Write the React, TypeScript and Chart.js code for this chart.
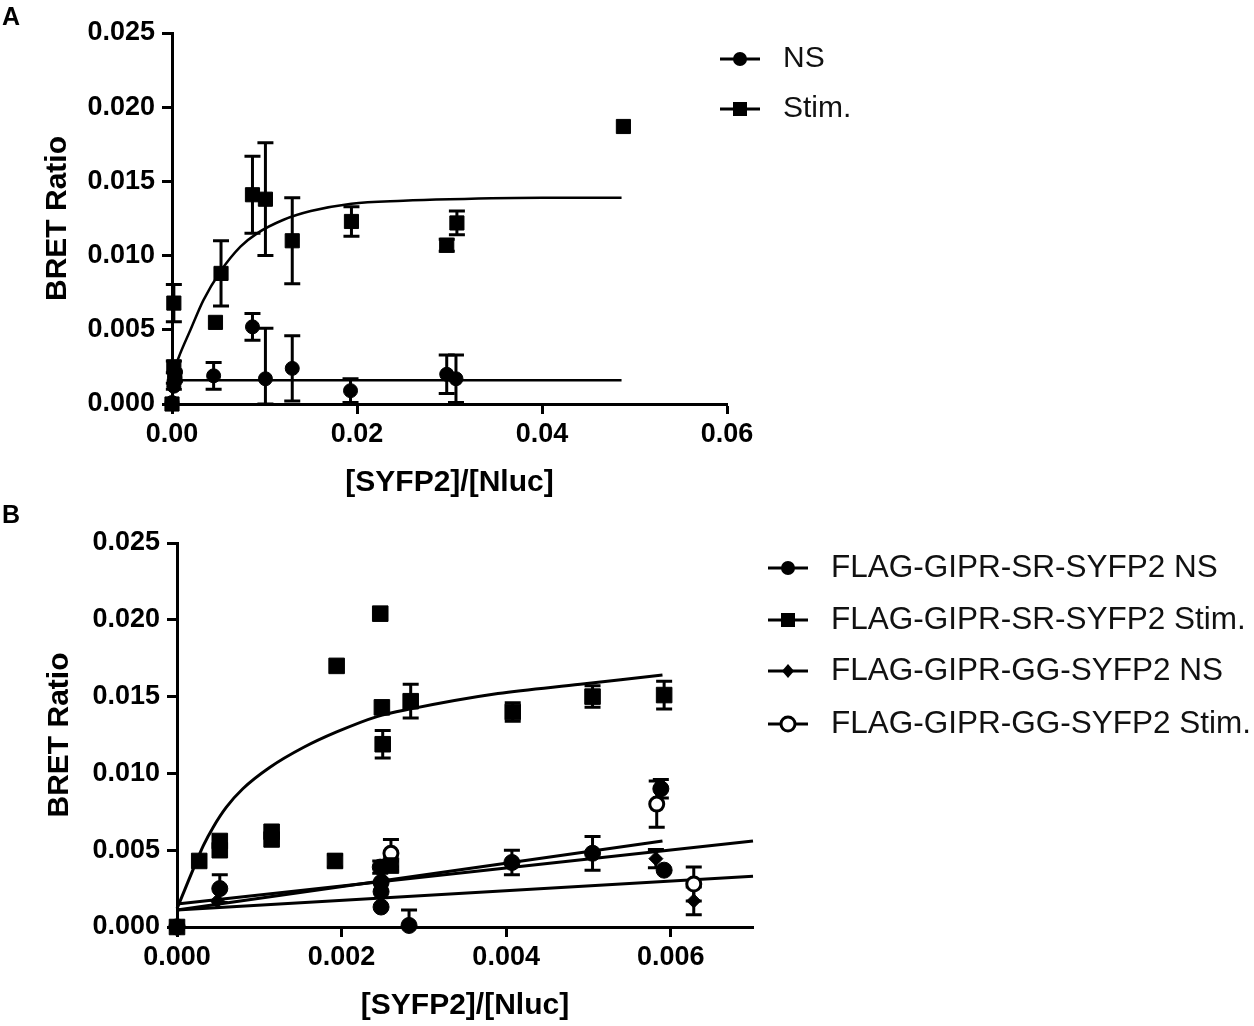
import { useEffect, useRef } from 'react';
import { Chart, registerables } from 'chart.js';

Chart.register(...registerables);

const FONT = "'Liberation Sans', Arial, Helvetica, sans-serif";

// ---- Panel A ----
const aXTicks = [0, 0.02, 0.04, 0.06];
const aYTicks = [0, 0.005, 0.01, 0.015, 0.02, 0.025];

const aNsX = [0, 0.0002, 0.0003, 0.0045, 0.0087, 0.0101, 0.013, 0.0193, 0.0297, 0.0307];
const aNsY = [0.0001, 0.0012, 0.0018, 0.0019, 0.0052, 0.0017, 0.0024, 0.0009, 0.002, 0.0017];
const aNsErr = [0, 0.0002, 0.0003, 0.0009, 0.0009, 0.0034, 0.0022, 0.0008, 0.0013, 0.0016];

const aStimX = [0, 0.0002, 0.0002, 0.0003, 0.0047, 0.0053, 0.0087, 0.0101, 0.013, 0.0194, 0.0297, 0.0308, 0.0488];
const aStimY = [0, 0.0068, 0.0025, 0.0019, 0.0055, 0.0088, 0.0141, 0.0138, 0.011, 0.0123, 0.0107, 0.0122, 0.0187];
const aStimErr = [0, 0.00125, 0.0004, 0.0003, 0, 0.0022, 0.0026, 0.0038, 0.0029, 0.001, 0.0004, 0.0008, 0];

const aStimFitX = [0, 0.0007, 0.002, 0.0034, 0.0052, 0.0074, 0.0092, 0.012, 0.015, 0.0194, 0.025, 0.03, 0.04, 0.0486];
const aStimFitY = [0.0018, 0.0031, 0.005, 0.007, 0.0089, 0.0106, 0.0115, 0.0124, 0.013, 0.0135, 0.0137, 0.0138, 0.0139, 0.0139];
const aNsFitX = [0, 0.0486];
const aNsFitY = [0.0016, 0.0016];

const aLegend = ['NS', 'Stim.'];

// ---- Panel B ----
const bXTicks = [0, 0.002, 0.004, 0.006];
const bYTicks = [0, 0.005, 0.01, 0.015, 0.02, 0.025];

const bSrNsX = [0, 0.00052, 0.00247, 0.00248, 0.00248, 0.00248, 0.00282, 0.00407, 0.00505, 0.00592, 0.00588];
const bSrNsY = [0, 0.0025, 0.0039, 0.0029, 0.0023, 0.0013, 0.0001, 0.0042, 0.0048, 0.0037, 0.009];
const bSrNsErr = [0, 0.0009, 0.0004, 0, 0, 0, 0.001, 0.0008, 0.0011, 0, 0.0006];

const bSrStimX = [0, 0.00027, 0.00052, 0.00052, 0.00115, 0.00115, 0.00194, 0.00192, 0.00247, 0.00249, 0.0025, 0.0026, 0.00284, 0.00408, 0.00505, 0.00592];
const bSrStimY = [0, 0.0043, 0.0056, 0.005, 0.0062, 0.0057, 0.017, 0.0043, 0.0204, 0.0143, 0.0119, 0.004, 0.0147, 0.014, 0.015, 0.0151];
const bSrStimErr = [0, 0, 0, 0, 0, 0, 0, 0.0004, 0, 0, 0.0009, 0.0003, 0.0011, 0.0006, 0.0007, 0.0009];

const bGgNsX = [0, 0.00049, 0.0025, 0.00582, 0.00628];
const bGgNsY = [0, 0.0017, 0.0031, 0.00445, 0.0017];
const bGgNsErr = [0, 0, 0, 0.0006, 0.0009];

const bGgStimX = [0, 0.0026, 0.00583, 0.00628];
const bGgStimY = [0, 0.0048, 0.008, 0.0028];
const bGgStimErr = [0, 0.0009, 0.0015, 0.0011];

const bSrStimFitX = [0, 0.0001, 0.0002, 0.00032, 0.00044, 0.0006, 0.0008, 0.00113, 0.00154, 0.00194, 0.00243, 0.00284, 0.0039, 0.0049, 0.0059];
const bSrStimFitY = [0.0012, 0.0025, 0.0038, 0.0053, 0.0065, 0.0078, 0.009, 0.0104, 0.0117, 0.0127, 0.0137, 0.0142, 0.0152, 0.0158, 0.0164];
const bSrNsFitX = [0, 0.0059];
const bSrNsFitY = [0.0011, 0.0056];
const bGgNsFitX = [0, 0.007];
const bGgNsFitY = [0.0011, 0.0033];
const bGgStimFitX = [0, 0.007];
const bGgStimFitY = [0.0015, 0.0056];

const bLegend = [
  'FLAG-GIPR-SR-SYFP2 NS',
  'FLAG-GIPR-SR-SYFP2 Stim.',
  'FLAG-GIPR-GG-SYFP2 NS',
  'FLAG-GIPR-GG-SYFP2 Stim.',
];

const pts = (xs: number[], ys: number[]) => xs.map((x, i) => ({ x, y: ys[i] }));

function drawMarker(ctx: CanvasRenderingContext2D, style: string, x: number, y: number) {
  ctx.beginPath();
  ctx.fillStyle = '#000';
  ctx.strokeStyle = '#000';
  if (style === 'rect') {
    ctx.fillRect(x - 7, y - 7, 14, 14);
    return;
  }
  if (style === 'rectRot') {
    ctx.moveTo(x, y - 7);
    ctx.lineTo(x + 6, y);
    ctx.lineTo(x, y + 7);
    ctx.lineTo(x - 6, y);
    ctx.closePath();
    ctx.fill();
    return;
  }
  ctx.arc(x, y, 7, 0, Math.PI * 2);
  if (style === 'open') {
    ctx.fillStyle = '#fff';
    ctx.fill();
    ctx.lineWidth = 3;
    ctx.stroke();
  } else {
    ctx.fill();
  }
}

// error bars (mean +/- err) drawn through the chart's own scales
const errorBars = {
  id: 'errorBars',
  beforeDatasetsDraw(chart: any) {
    const { ctx } = chart;
    const xs = chart.scales.x;
    const ys = chart.scales.y;
    ctx.save();
    ctx.strokeStyle = '#000';
    ctx.lineWidth = 3;
    chart.data.datasets.forEach((ds: any) => {
      if (!ds.errors) return;
      ds.data.forEach((p: any, i: number) => {
        const e = ds.errors[i];
        if (!e) return;
        const px = xs.getPixelForValue(p.x);
        const top = ys.getPixelForValue(p.y + e);
        const bot = ys.getPixelForValue(Math.max(0, p.y - e));
        ctx.beginPath();
        ctx.moveTo(px, top);
        ctx.lineTo(px, bot);
        ctx.moveTo(px - 8, top);
        ctx.lineTo(px + 8, top);
        ctx.moveTo(px - 8, bot);
        ctx.lineTo(px + 8, bot);
        ctx.stroke();
      });
    });
    ctx.restore();
  },
};

const sideLegend = {
  id: 'sideLegend',
  afterDraw(chart: any, _args: any, opts: any) {
    if (!opts || !opts.labels) return;
    const { ctx } = chart;
    ctx.save();
    opts.labels.forEach((label: string, i: number) => {
      const y = opts.ys[i];
      ctx.strokeStyle = '#000';
      ctx.lineWidth = 3;
      ctx.beginPath();
      ctx.moveTo(opts.x1, y);
      ctx.lineTo(opts.x2, y);
      ctx.stroke();
      drawMarker(ctx, opts.styles[i], (opts.x1 + opts.x2) / 2, y);
      ctx.fillStyle = '#111';
      ctx.font = `${opts.size}px ${FONT}`;
      ctx.textBaseline = 'middle';
      ctx.textAlign = 'left';
      ctx.fillText(label, opts.textX, y);
    });
    ctx.restore();
  },
};

function marker(style: string, fill: string, r: number) {
  return {
    showLine: false,
    pointStyle: style,
    pointRadius: r,
    pointBackgroundColor: fill,
    pointBorderColor: '#000',
    pointBorderWidth: fill === '#fff' ? 3 : 1,
    clip: false as const,
  };
}

function fitLine(w: number, smooth: boolean) {
  return {
    showLine: true,
    pointRadius: 0,
    borderColor: '#000',
    borderWidth: w,
    cubicInterpolationMode: smooth ? ('monotone' as const) : ('default' as const),
    clip: false as const,
  };
}

function scales(opts: any) {
  const tickFont = { family: FONT, size: 27, weight: 'bold' as const };
  const titleFont = { family: FONT, size: 30, weight: 'bold' as const };
  const grid = { drawOnChartArea: false, drawTicks: true, tickLength: 10, tickWidth: 3, tickColor: '#000' };
  const border = { display: true, color: '#000', width: 3 };
  return {
    x: {
      type: 'linear' as const,
      min: 0,
      max: opts.xMax,
      afterBuildTicks: (s: any) => {
        s.ticks = opts.xTicks.map((v: number) => ({ value: v }));
      },
      afterFit: (s: any) => {
        s.height = opts.xHeight;
      },
      grid,
      border,
      ticks: {
        color: '#000',
        font: tickFont,
        padding: 4,
        autoSkip: false,
        maxRotation: 0,
        callback: (v: any) => Number(v).toFixed(opts.xDec),
      },
      title: {
        display: true,
        text: '[SYFP2]/[Nluc]',
        color: '#000',
        font: titleFont,
        padding: { top: 0, bottom: opts.xTitlePad },
      },
    },
    y: {
      type: 'linear' as const,
      min: 0,
      max: 0.025,
      afterBuildTicks: (s: any) => {
        s.ticks = opts.yTicks.map((v: number) => ({ value: v }));
      },
      afterFit: (s: any) => {
        s.width = opts.yWidth;
      },
      grid,
      border,
      ticks: {
        color: '#000',
        font: tickFont,
        padding: 7,
        autoSkip: false,
        callback: (v: any) => Number(v).toFixed(3),
      },
      title: {
        display: true,
        text: 'BRET Ratio',
        color: '#000',
        font: titleFont,
        padding: { top: opts.yTitlePad, bottom: 0 },
      },
    },
  };
}

function configA(): any {
  return {
    type: 'scatter',
    data: {
      datasets: [
        { label: 'NS', data: pts(aNsX, aNsY), errors: aNsErr, ...marker('circle', '#000', 7) },
        { label: 'Stim.', data: pts(aStimX, aStimY), errors: aStimErr, ...marker('rect', '#000', 10) },
        { label: 'NS fit', data: pts(aNsFitX, aNsFitY), ...fitLine(2.5, false) },
        { label: 'Stim. fit', data: pts(aStimFitX, aStimFitY), ...fitLine(2.5, true) },
      ],
    },
    options: {
      responsive: false,
      animation: false,
      events: [],
      layout: { padding: { left: 0, right: 1254 - 727, top: 33, bottom: 0 } },
      scales: scales({ xMax: 0.06, xTicks: aXTicks, yTicks: aYTicks, xDec: 2, xHeight: 101, yWidth: 172, xTitlePad: 4, yTitlePad: 40 }),
      plugins: {
        legend: { display: false },
        tooltip: { enabled: false },
        sideLegend: { labels: aLegend, styles: ['circle', 'rect'], ys: [59, 109], x1: 720, x2: 760, textX: 783, size: 30 },
      },
    },
    plugins: [errorBars, sideLegend],
  };
}

function configB(): any {
  return {
    type: 'scatter',
    data: {
      datasets: [
        { label: bLegend[0], data: pts(bSrNsX, bSrNsY), errors: bSrNsErr, ...marker('circle', '#000', 8) },
        { label: bLegend[1], data: pts(bSrStimX, bSrStimY), errors: bSrStimErr, ...marker('rect', '#000', 11) },
        { label: bLegend[2], data: pts(bGgNsX, bGgNsY), errors: bGgNsErr, ...marker('rectRot', '#000', 7) },
        { label: bLegend[3], data: pts(bGgStimX, bGgStimY), errors: bGgStimErr, ...marker('circle', '#fff', 7) },
        { label: 'SR NS fit', data: pts(bSrNsFitX, bSrNsFitY), ...fitLine(3, false) },
        { label: 'GG NS fit', data: pts(bGgNsFitX, bGgNsFitY), ...fitLine(3, false) },
        { label: 'GG Stim fit', data: pts(bGgStimFitX, bGgStimFitY), ...fitLine(3, false) },
        { label: 'SR Stim fit', data: pts(bSrStimFitX, bSrStimFitY), ...fitLine(3, true) },
      ],
    },
    options: {
      responsive: false,
      animation: false,
      events: [],
      layout: { padding: { left: 0, right: 1254 - 753, top: 38, bottom: 0 } },
      scales: scales({ xMax: 0.007, xTicks: bXTicks, yTicks: bYTicks, xDec: 3, xHeight: 99, yWidth: 177, xTitlePad: 2, yTitlePad: 42 }),
      plugins: {
        legend: { display: false },
        tooltip: { enabled: false },
        sideLegend: {
          labels: bLegend,
          styles: ['circle', 'rect', 'rectRot', 'open'],
          ys: [63, 115, 166, 219],
          x1: 768,
          x2: 808,
          textX: 831,
          size: 31.5,
        },
      },
    },
    plugins: [errorBars, sideLegend],
  };
}

function Panel({ top, height, make }: { top: number; height: number; make: () => any }) {
  const canvasRef = useRef<HTMLCanvasElement>(null);

  useEffect(() => {
    if (!canvasRef.current) return;
    const chart = new Chart(canvasRef.current, make());
    return () => chart.destroy();
  }, [make]);

  return (
    <canvas
      ref={canvasRef}
      width={1254}
      height={height}
      style={{ position: 'absolute', left: 0, top, width: 1254, height }}
    />
  );
}

const letter = { position: 'absolute' as const, left: 2, fontFamily: FONT, fontWeight: 'bold' as const, fontSize: 25, lineHeight: 1 };

export default function App() {
  return (
    <div style={{ position: 'fixed', left: 0, top: 0, width: 1254, height: 1026, background: '#fff', overflow: 'hidden' }}>
      <Panel top={0} height={505} make={configA} />
      <Panel top={505} height={521} make={configB} />
      <div style={{ ...letter, top: 4 }}>A</div>
      <div style={{ ...letter, top: 502 }}>B</div>
    </div>
  );
}
